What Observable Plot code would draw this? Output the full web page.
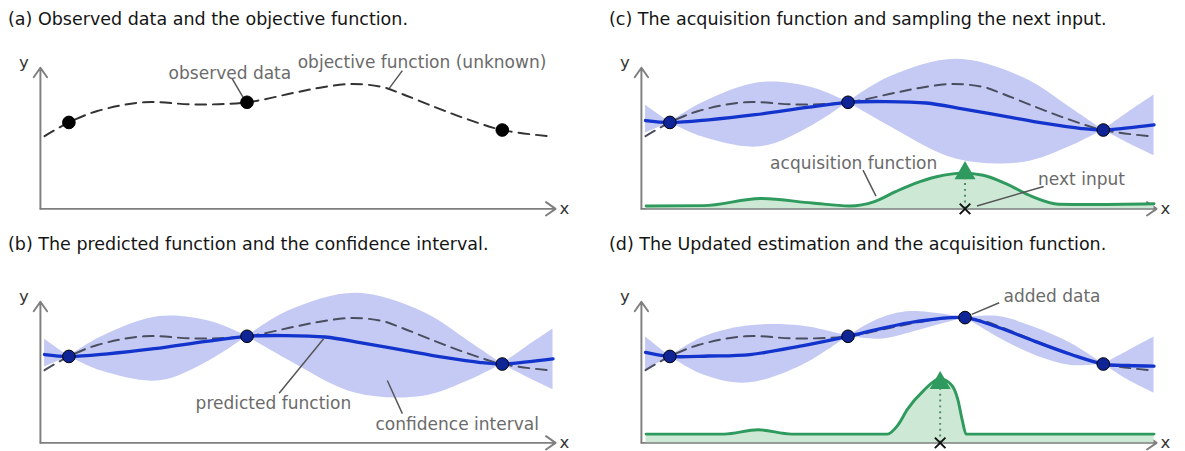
<!DOCTYPE html>
<html><head><meta charset="utf-8">
<script src="https://cdn.jsdelivr.net/npm/d3@7"></script>
<script src="https://cdn.jsdelivr.net/npm/@observablehq/plot@0.6"></script>
<style>
html,body{margin:0;padding:0;background:#fff;overflow:hidden}
#root{position:relative;width:1185px;height:451px;overflow:hidden;background:#fff;font-family:"DejaVu Sans",sans-serif}
.title{position:absolute;font-size:17.5px;color:#151515;white-space:nowrap;line-height:1}
.panel{position:absolute;width:584px;height:180px}
</style></head><body><div id="root"></div>
<script>
// ---- data (x and y in arbitrary 0..10 units) ----
const titles = [
  "(a) Observed data and the objective function.",
  "(b) The predicted function and the confidence interval.",
  "(c) The acquisition function and sampling the next input.",
  "(d) The Updated estimation and the acquisition function."
];
// objective function (unknown), dashed
const objX = [0.08, 0.55, 1.1, 2.0, 3.0, 3.99, 4.9, 5.4, 6.0, 6.6, 7.0, 7.6, 8.2, 8.92, 9.9];
const objY = [4.98, 5.92, 6.7, 7.3, 7.15, 7.3, 7.95, 8.3, 8.55, 8.35, 7.85, 7.0, 6.2, 5.4, 4.95];
// observed data
const obsX = [0.55, 3.99, 8.92];
const obsY = [5.92, 7.3, 5.4];
// added data (panel d)
const addX = [6.25];
const addY = [8.58];
// predicted function before update (b, c)
const mean1X = [0.08, 0.55, 1.3, 2.2, 3.2, 3.99, 4.7, 5.5, 6.2, 7.0, 7.8, 8.5, 8.92, 9.4, 9.9];
const mean1Y = [6.05, 5.92, 6.1, 6.45, 6.95, 7.3, 7.35, 7.25, 6.85, 6.35, 5.85, 5.5, 5.4, 5.55, 5.75];
// confidence interval before update (b, c)
const band1X  = [0.08, 0.55, 1.2, 2.3, 3.3, 3.99, 4.8, 6.1, 7.4, 8.3, 8.92, 9.4, 9.9];
const band1Hi = [7.1, 5.92, 7.3, 8.65, 8.3, 7.3, 9.05, 10.25, 8.95, 6.9, 5.4, 6.6, 7.8];
const band1Lo = [5.2, 5.92, 4.9, 4.25, 5.7, 7.3, 5.65, 3.4, 3.2, 4.3, 5.4, 4.5, 3.65];
// predicted function after update (d)
const mean2X = [0.08, 0.55, 1.3, 2.1, 3.1, 3.99, 4.6, 5.3, 6.25, 6.9, 7.6, 8.3, 8.92, 9.4, 9.9];
const mean2Y = [6.2, 5.92, 5.95, 6.05, 6.65, 7.3, 7.8, 8.3, 8.58, 7.9, 6.95, 6.05, 5.4, 5.3, 5.25];
// confidence interval after update (d)
const band2X  = [0.08, 0.55, 1.2, 2.05, 3.1, 3.99, 4.6, 5.2, 6.25, 6.9, 7.6, 8.3, 8.92, 9.4, 9.9];
const band2Hi = [7.25, 5.92, 7.25, 8.0, 8.0, 7.3, 8.5, 9.0, 8.58, 8.65, 7.9, 6.8, 5.4, 6.3, 7.25];
const band2Lo = [4.98, 5.92, 4.65, 4.1, 5.3, 7.3, 7.1, 7.55, 8.58, 7.2, 6.0, 5.3, 5.4, 4.3, 3.4];
// acquisition function (c)
const acq1X = [0.09, 1.2, 2.3, 3.3, 4.02, 4.5, 4.91, 5.26, 5.7, 6.2, 6.6, 7.05, 7.54, 8.06, 8.6, 9.9];
const acq1Y = [0.2, 0.22, 0.71, 0.4, 0.2, 0.5, 1.18, 1.71, 2.2, 2.45, 2.3, 1.71, 0.85, 0.32, 0.3, 0.35];
// acquisition function (d)
const acq2X = [0.09, 1.6, 2.25, 2.9, 4.75, 4.95, 5.14, 5.45, 5.77, 6.0, 6.11, 6.2, 6.27, 9.9];
const acq2Y = [0.6, 0.6, 0.9, 0.6, 0.6, 1.2, 2.31, 3.58, 4.4, 3.91, 2.98, 1.5, 0.6, 0.6];
// next input (c, d)
const nextX = [6.25, 5.77];
const nextY = [2.45, 4.1];
// annotation texts
const labelsA = ["observed data", "objective function (unknown)"];
const labelsB = ["predicted function", "confidence interval"];
const labelsC = ["acquisition function", "next input"];
const labelsD = ["added data"];

// ---- helpers ----
const zip = (xs, ys) => xs.map((x, i) => ({x, y: ys[i]}));
function bandRows(xs, hi, lo, pinches) {
  const rows = []; let seg = 0;
  xs.forEach((x, i) => {
    const isPinch = pinches.some(p => Math.abs(p - x) < 1e-6);
    rows.push({x, hi: hi[i], lo: lo[i], seg});
    if (isPinch) { seg++; rows.push({x, hi: hi[i], lo: lo[i], seg}); }
  });
  return rows;
}

const C = {
  axis: "#7f7f7f", band: "#c4caf4", mean: "#1233cc", dash: "#4a4d5e",
  green: "#2f9a5d", greenFill: "#cde9d5", text: "#6b6b6b", leader: "#555"
};
const FONT = "DejaVu Sans, sans-serif";

function makePanel(o) {
  const marks = [];
  marks.push(Plot.arrow([{x1: 0, y1: 0, x2: 0, y2: 9.67}, {x1: 0, y1: 0, x2: 9.95, y2: 0}],
    {x1: "x1", y1: "y1", x2: "x2", y2: "y2", stroke: C.axis, strokeWidth: 2, headLength: 9, headAngle: 70}));
  marks.push(Plot.text([{x: -0.32, y: 10.0, t: "y"}, {x: 10.12, y: 0, t: "x"}],
    {x: "x", y: "y", text: "t", fontSize: 17, fill: "#333", fontFamily: FONT}));
  if (o.band) marks.push(Plot.areaY(o.band, {x: "x", y1: "lo", y2: "hi", z: "seg", fill: C.band, curve: "catmull-rom"}));
  if (o.acq) {
    marks.push(Plot.areaY(o.acq, {x: "x", y: "y", fill: C.greenFill, curve: "monotone-x"}));
    marks.push(Plot.lineY(o.acq, {x: "x", y: "y", stroke: C.green, strokeWidth: 3, curve: "monotone-x"}));
  }
  marks.push(Plot.line(zip(objX, objY), {x: "x", y: "y", stroke: o.mean ? C.dash : "#333", strokeWidth: 2,
    strokeDasharray: "11,7", curve: "catmull-rom"}));
  if (o.mean) marks.push(Plot.line(o.mean, {x: "x", y: "y", stroke: C.mean, strokeWidth: 3.4, curve: "catmull-rom"}));
  if (o.next) {
    marks.push(Plot.ruleX([o.next], {x: "x", y1: 0, y2: "y", stroke: "#4f8c63", strokeWidth: 2, strokeDasharray: "2,4"}));
    marks.push(Plot.dot([o.next], {x: "x", y: "y", symbol: "triangle", r: 8, fill: C.green}));
    marks.push(Plot.dot([o.next], {x: "x", y: () => 0, symbol: "times", r: 5, stroke: "#111", strokeWidth: 2}));
  }
  marks.push(Plot.link(o.leaders, {x1: "x1", y1: "y1", x2: "x2", y2: "y2", stroke: C.leader, strokeWidth: 1.5}));
  marks.push(Plot.dot(o.dots, {x: "x", y: "y", r: 6.5, fill: o.mean ? "#0f2596" : "#000", stroke: "#000", strokeWidth: 1}));
  marks.push(Plot.text(o.labels, {x: "x", y: "y", text: "t", fontSize: 17.5, fill: C.text, fontFamily: FONT}));
  return Plot.plot({
    width: 600, height: 180, marginLeft: 41, marginRight: 27, marginTop: 23, marginBottom: 7,
    x: {domain: [0, 10], axis: null}, y: {domain: [0, 10], axis: null},
    style: {overflow: "visible", background: "transparent", fontFamily: FONT},
    marks
  });
}

const obs = zip(obsX, obsY);
const panels = [
  {left: 0, top: 40, titleTop: 11, o: {
    dots: obs,
    labels: [{x: 3.66, y: 9.27, t: labelsA[0]}, {x: 7.37, y: 10.0, t: labelsA[1]}],
    leaders: [{x1: 3.70, y1: 8.93, x2: 3.92, y2: 7.6}, {x1: 6.99, y1: 9.47, x2: 6.74, y2: 8.27}]
  }},
  {left: 0, top: 274, titleTop: 236, o: {
    dots: obs, mean: zip(mean1X, mean1Y), band: bandRows(band1X, band1Hi, band1Lo, obsX),
    labels: [{x: 4.5, y: 2.67, t: labelsB[0]}, {x: 8.05, y: 1.27, t: labelsB[1]}],
    leaders: [{x1: 4.61, y1: 3.4, x2: 5.47, y2: 7.13}, {x1: 6.99, y1: 2.0, x2: 6.70, y2: 4.27}]
  }},
  {left: 601, top: 40, titleTop: 11, o: {
    dots: obs, mean: zip(mean1X, mean1Y), band: bandRows(band1X, band1Hi, band1Lo, obsX),
    acq: zip(acq1X, acq1Y), next: {x: nextX[0], y: nextY[0]},
    labels: [{x: 4.1, y: 3.07, t: labelsC[0]}, {x: 8.5, y: 1.98, t: labelsC[1]}],
    leaders: [{x1: 4.28, y1: 2.65, x2: 4.53, y2: 0.87}, {x1: 7.77, y1: 1.53, x2: 6.48, y2: 0.2}]
  }},
  {left: 601, top: 274, titleTop: 236, o: {
    dots: obs.concat(zip(addX, addY)), mean: zip(mean2X, mean2Y),
    band: bandRows(band2X, band2Hi, band2Lo, obsX.concat(addX)),
    acq: zip(acq2X, acq2Y), next: {x: nextX[1], y: nextY[1]},
    labels: [{x: 7.93, y: 10.0, t: labelsD[0]}],
    leaders: [{x1: 6.91, y1: 9.6, x2: 6.38, y2: 8.8}]
  }}
];
const root = document.getElementById("root");
panels.forEach((p, i) => {
  const t = document.createElement("div");
  t.className = "title";
  t.textContent = titles[i];
  t.style.left = (p.left + 8) + "px";
  t.style.top = p.titleTop + "px";
  root.appendChild(t);
  const d = document.createElement("div");
  d.className = "panel";
  d.style.left = p.left + "px";
  d.style.top = p.top + "px";
  d.appendChild(makePanel(p.o));
  root.appendChild(d);
});
</script></body></html>
